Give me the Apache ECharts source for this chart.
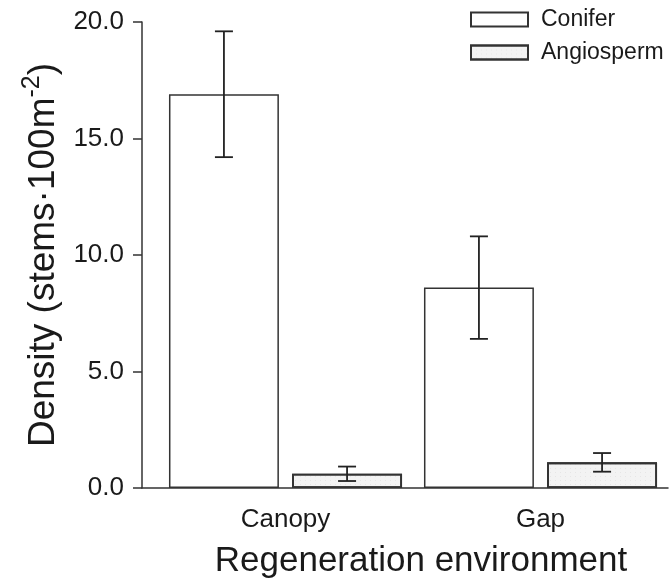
<!DOCTYPE html>
<html>
<head>
<meta charset="utf-8">
<script src="https://cdn.jsdelivr.net/npm/echarts@6/dist/echarts.min.js"></script>
<style>html,body{margin:0;padding:0;background:#fff}#c{width:670px;height:584px}</style>
</head>
<body>
<div id="c"></div>
<script>
const categories = ['Canopy', 'Gap'];
const coniferMean = [16.9, 8.6];
const coniferErr = [2.7, 2.2];
const angioMean = [0.61, 1.1];
const angioErr = [0.31, 0.4];
const yTicks = [0, 5, 10, 15, 20];

const FONT = 'Liberation Sans, Arial, sans-serif';
const TXT = '#1a1a1a';
const BAR_CAT_GAP = 0.086, BAR_GAP = 0.12;

function errSeries(name, mean, err, dir) {
  return {
    type: 'custom', name: name + ' err', xAxisIndex: 1, yAxisIndex: 1, z: 5,
    silent: true,
    encode: { x: 0, y: [1, 2] },
    data: mean.map((m, i) => [i, m - err[i], m + err[i]]),
    renderItem: function (params, api) {
      const band = api.size([1, 0])[0];
      const bw = band * (1 - BAR_CAT_GAP) / (2 + BAR_GAP);
      const off = dir * bw * (1 + BAR_GAP) / 2;
      const lo = api.coord([api.value(0), api.value(1)]);
      const hi = api.coord([api.value(0), api.value(2)]);
      const x = lo[0] + off;
      const cap = 9;
      const st = { stroke: '#222', lineWidth: 1.8 };
      return { type: 'group', children: [
        { type: 'line', shape: { x1: x, y1: lo[1], x2: x, y2: hi[1] }, style: st },
        { type: 'line', shape: { x1: x - cap, y1: lo[1], x2: x + cap, y2: lo[1] }, style: st },
        { type: 'line', shape: { x1: x - cap, y1: hi[1], x2: x + cap, y2: hi[1] }, style: st }
      ]};
    }
  };
}

const chart = echarts.init(document.getElementById('c'), null, { renderer: 'canvas' });
chart.setOption({
  animation: false,
  backgroundColor: '#fff',
  textStyle: { fontFamily: FONT, color: TXT },
  grid: [
    { left: 142, right: 2, top: 22, bottom: 96 },
    { left: 158, right: 2, top: 22, bottom: 96 }
  ],
  legend: {
    orient: 'vertical', left: 465, top: 3, itemWidth: 57, itemHeight: 14, itemGap: 10,
    icon: 'rect',
    textStyle: { fontSize: 23, color: TXT, fontFamily: FONT, padding: [0, 0, 0, 8] },
    data: ['Conifer', 'Angiosperm']
  },
  xAxis: [
    { type: 'value', gridIndex: 0, min: 0, max: 1,
      axisLine: { show: true, onZero: false, lineStyle: { color: '#333', width: 1.5 } },
      axisTick: { show: false }, axisLabel: { show: false }, splitLine: { show: false } },
    { type: 'category', gridIndex: 1, data: categories,
      axisLine: { show: false }, axisTick: { show: false },
      axisLabel: { fontSize: 26, color: TXT, margin: 19, fontFamily: FONT },
      name: 'Regeneration environment', nameLocation: 'middle', nameGap: 56,
      nameTextStyle: { fontSize: 35, color: TXT, fontFamily: FONT, padding: [0, 0, 0, 16] } }
  ],
  yAxis: [
    { type: 'value', gridIndex: 0, min: yTicks[0], max: yTicks[yTicks.length - 1], interval: 5,
      axisLine: { show: true, lineStyle: { color: '#333', width: 1.5 } },
      axisTick: { show: true, length: 9, lineStyle: { color: '#333', width: 1.5 } },
      axisLabel: { fontSize: 26, color: TXT, margin: 18, fontFamily: FONT, formatter: v => v.toFixed(1) },
      splitLine: { show: false },
      name: '{a|Density (stems·100m}{s|-2}{a|)}',
      nameLocation: 'middle', nameGap: 77, nameRotate: 90,
      nameTextStyle: { padding: [0, 0, 0, 0], rich: {
        a: { fontSize: 37, color: TXT, fontFamily: FONT, verticalAlign: 'bottom', lineHeight: 43 },
        s: { fontSize: 25, color: TXT, fontFamily: FONT, verticalAlign: 'top', lineHeight: 43 }
      } } },
    { type: 'value', gridIndex: 1, min: 0, max: 20, interval: 5, show: false }
  ],
  series: [
    { type: 'bar', name: 'Conifer', xAxisIndex: 1, yAxisIndex: 1, data: coniferMean,
      barCategoryGap: (BAR_CAT_GAP * 100) + '%', barGap: (BAR_GAP * 100) + '%',
      itemStyle: { color: '#ffffff', borderColor: '#333', borderWidth: 1.5 } },
    { type: 'bar', name: 'Angiosperm', xAxisIndex: 1, yAxisIndex: 1, data: angioMean,
      barCategoryGap: (BAR_CAT_GAP * 100) + '%', barGap: (BAR_GAP * 100) + '%',
      itemStyle: { color: '#f3f3f3', borderColor: '#333', borderWidth: 1.8,
        decal: { symbol: 'rect', symbolSize: 0.5, color: 'rgba(90,90,90,0.3)',
                 dashArrayX: [1, 4], dashArrayY: [1, 3], rotation: 0 } } },
    errSeries('Conifer', coniferMean, coniferErr, -1),
    errSeries('Angiosperm', angioMean, angioErr, 1)
  ]
});
</script>
</body>
</html>
